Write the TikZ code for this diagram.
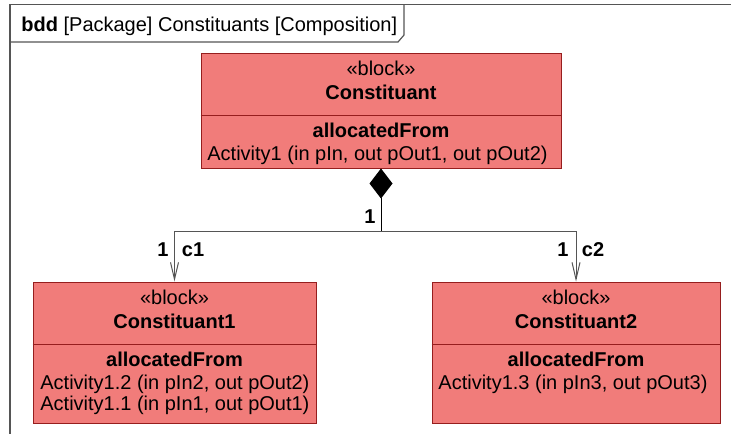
\documentclass[tikz,border=0pt]{standalone}
\usepackage{fontspec}
\setmainfont{Liberation Sans}
\usetikzlibrary{arrows.meta}
\definecolor{blockfill}{RGB}{241,124,122}
\definecolor{blockline}{RGB}{150,30,30}
\definecolor{framegray}{RGB}{85,85,85}

\begin{document}
\begin{tikzpicture}[x=0.5pt, y=-0.5pt, font=\fontsize{10}{12}\selectfont,
  blk/.style={draw=blockline, fill=blockfill, line width=0.5pt, inner sep=0pt},
  sep/.style={draw=blockline, line width=0.5pt},
  frm/.style={draw=framegray, line width=0.6pt},
  ctr/.style={inner sep=0pt, text height=7.2pt, text depth=0pt},
  ttl/.style={ctr, font=\fontsize{10}{12}\selectfont\bfseries},
  txt/.style={ctr, anchor=west},
  mult/.style={ctr, font=\fontsize{10}{12}\selectfont\bfseries},
  comp/.style={draw=black, line width=0.5pt, {Diamond[length=15pt,width=11.5pt]}-},
  assoc/.style={draw=framegray, line width=0.5pt, -{Straight Barb[length=8.5pt,width=4pt]}}]
  \useasboundingbox (0,0) rectangle (731,434);

  % frame and its name tab
  \draw[frm] (731,4.5) -- (10,4.5) -- (10,434);
  \draw[frm] (10,42) -- (398,42) -- (404,35) -- (404,4.5);
  \node[txt] (hdr) at (21,24) {\textbf{bdd} [Package] Constituants [Composition]};

  % blocks
  \node[blk, minimum width=180pt, minimum height=57.5pt] (con) at (381,110.5) {};
  \node[blk, minimum width=141.5pt, minimum height=70.5pt] (c1) at (174.5,352.5) {};
  \node[blk, minimum width=144pt, minimum height=70.5pt] (c2) at (576,352.5) {};
  \draw[sep] (con.west |- 0,115) -- (con.east |- 0,115);
  \draw[sep] (c1.west |- 0,344) -- (c1.east |- 0,344);
  \draw[sep] (c2.west |- 0,344) -- (c2.east |- 0,344);

  \node[ctr] (const) at (381,68) {«block»};
  \node[ttl] (conn) at (381,92) {Constituant};
  \node[ttl] (cona) at (381,130) {allocatedFrom};
  \node[txt] (con1) at (207,153) {Activity1 (in pIn, out pOut1, out pOut2)};

  \node[ctr] (c1st) at (174.5,297) {«block»};
  \node[ttl] (c1n) at (174.5,321) {Constituant1};
  \node[ttl] (c1a) at (174.5,359) {allocatedFrom};
  \node[txt] (c1x) at (40,382) {Activity1.2 (in pIn2, out pOut2)};
  \node[txt] (c1y) at (40,403) {Activity1.1 (in pIn1, out pOut1)};

  \node[ctr] (c2st) at (576,297) {«block»};
  \node[ttl] (c2n) at (576,321) {Constituant2};
  \node[ttl] (c2a) at (576,359) {allocatedFrom};
  \node[txt] (c2x) at (438,382) {Activity1.3 (in pIn3, out pOut3)};

  % composition
  \coordinate (jn) at (381,231);
  \draw[comp] (con.south) -- (jn);
  \draw[assoc] (jn) -| (c1.north);
  \draw[assoc] (jn) -| (c2.north);
  \node[mult] (m0) at (370,216) {1};
  \node[mult] (m1) at (163,249) {1};
  \node[mult] (r1) at (193,249) {c1};
  \node[mult] (m2) at (563,249) {1};
  \node[mult] (r2) at (593,249) {c2};
\end{tikzpicture}
\end{document}
